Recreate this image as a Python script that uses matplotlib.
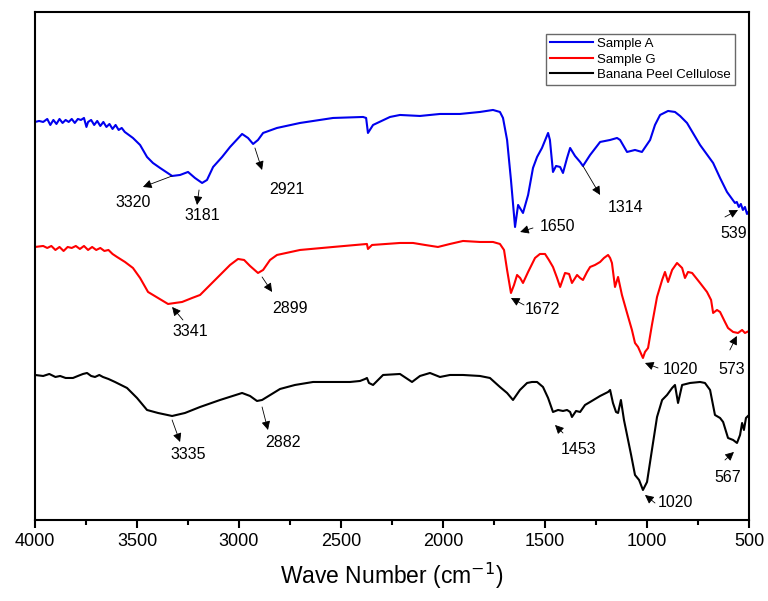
# FTIR spectra of sample A, sample G and banana peel cellulose
import matplotlib
matplotlib.use("Agg")
import matplotlib.pyplot as plt
from matplotlib.ticker import MultipleLocator

plt.rcParams['font.family'] = ['Liberation Sans', 'DejaVu Sans']

# values (wavenumber in cm-1, transmittance in arbitrary offset units)
wn_a = [4000, 3980, 3960, 3940, 3925, 3910, 3895, 3880, 3865, 3850, 3835, 3820, 3805, 3790,
        3775, 3760, 3748, 3740, 3725, 3710, 3695, 3680, 3665, 3650, 3635, 3620, 3605, 3590,
        3575, 3560, 3520, 3485,
        3451, 3422, 3387, 3328, 3289, 3250, 3216, 3181, 3157, 3127, 3083, 3044, 2985, 2956,
        2931, 2907, 2882, 2814, 2701, 2539, 2392, 2377, 2368, 2343, 2260, 2211, 2113, 2015,
        1917, 1819, 1755, 1721, 1706, 1686, 1667, 1647, 1632, 1608, 1583, 1559, 1539, 1515,
        1485, 1476, 1461, 1446, 1426, 1412, 1392, 1377, 1353, 1328, 1314, 1279, 1230, 1181,
        1147, 1132, 1098, 1059, 1025, 985, 961, 936, 897, 863, 838, 804, 740, 676, 642, 608,
        569, 560, 550, 540, 530, 520, 510, 500]
t_a = [398, 399, 398, 401, 395, 400, 396, 401, 397, 400, 398, 401, 397, 401,
       400, 402, 393, 398, 400, 395, 399, 394, 398, 393, 396, 391, 395, 390,
       392, 388, 382, 375,
       363, 357, 352, 344, 345, 348, 342, 337, 340, 353, 363, 373, 386, 382,
       376, 380, 387, 392, 397, 402, 403, 402, 387, 395, 403, 405, 404, 406,
       406, 408, 410, 408, 402, 380, 340, 293, 315, 307, 325, 352, 363, 372,
       387, 380, 348, 354, 353, 347, 362, 372, 364, 358, 354, 365, 378, 380,
       382, 380, 368, 370, 368, 380, 395, 405, 409, 408, 404, 397, 375, 357, 342, 328,
       317, 318, 313, 316, 310, 313, 306, 309]

wn_g = [4000, 3960, 3940, 3920, 3900, 3880, 3860, 3840, 3820, 3800, 3780, 3760, 3740, 3720,
        3700, 3680, 3660, 3640, 3620, 3598, 3559, 3520, 3485, 3446, 3397,
        3348, 3314, 3279, 3230, 3191, 3142, 3093, 3044, 3005, 2975, 2946, 2907, 2882, 2848,
        2814, 2701, 2539, 2373, 2368, 2348, 2211, 2147, 2088, 2025, 1966, 1902, 1819, 1755,
        1721, 1701, 1686, 1667, 1652, 1637, 1622, 1608, 1583, 1549, 1525, 1500, 1481, 1461,
        1441, 1426, 1402, 1382, 1368, 1343, 1328, 1314, 1294, 1279, 1255, 1230, 1211, 1191,
        1181, 1172, 1157, 1142, 1123, 1098, 1074, 1059, 1044, 1020, 1010, 995, 976, 951, 926,
        912, 897, 877, 853, 828, 814, 799, 779, 740, 706, 686, 676, 657, 642, 618, 603, 578,
        554, 534, 520, 500]
t_g = [273, 274, 272, 274, 270, 273, 269, 273, 272, 274, 271, 274, 270, 273,
       270, 272, 269, 270, 266, 263, 258, 252, 242, 228, 222,
       216, 217, 218, 222, 225, 235, 245, 255, 261, 260, 254, 247, 250, 260,
       265, 270, 273, 276, 271, 275, 277, 277, 275, 273, 276, 279, 278, 278,
       276, 270, 250, 227, 235, 245, 242, 237, 248, 262, 266, 266, 260, 253,
       242, 233, 247, 246, 237, 245, 242, 240, 248, 253, 255, 258, 262, 265,
       262, 257, 233, 243, 225, 207, 190, 177, 173, 162, 168, 172, 195, 223, 240,
       248, 238, 250, 257, 252, 242, 248, 247, 237, 228, 220, 207, 210, 208, 198, 192, 188,
       187, 190, 187, 189]

wn_c = [4000, 3960, 3930, 3900, 3877, 3850, 3814, 3790, 3765, 3745, 3725, 3706, 3685, 3667,
        3640, 3608, 3549, 3500, 3451, 3397, 3328,
        3265, 3191, 3093, 2985, 2946, 2912, 2887, 2863, 2799, 2726, 2637, 2539, 2456, 2407,
        2382, 2373, 2363, 2343, 2294, 2211, 2152, 2113, 2064, 2015, 1966, 1902, 1819, 1770,
        1721, 1686, 1657, 1623, 1588, 1564, 1539, 1510, 1485, 1461, 1436, 1412, 1392, 1377,
        1368, 1348, 1328, 1304, 1279, 1230, 1191, 1181, 1167, 1152, 1142, 1128, 1113, 1098,
        1078, 1059, 1039, 1020, 1000, 976, 951, 926, 902, 877, 863, 848, 828, 789, 740, 716,
        691, 667, 642, 627, 603, 578, 559, 544, 534, 525, 515, 500]
t_c = [145, 144, 146, 143, 144, 142, 142, 144, 146, 147, 144, 143, 145, 143,
       141, 138, 132, 122, 110, 107, 104,
       107, 113, 120, 127, 124, 119, 120, 123, 131, 135, 138, 138, 138, 139,
       141, 142, 137, 135, 145, 146, 138, 144, 147, 143, 145, 145, 144, 142,
       133, 127, 120, 130, 137, 138, 138, 133, 122, 108, 110, 109, 110, 108,
       103, 109, 108, 115, 118, 124, 128, 130, 117, 108, 107, 120, 100, 85,
       65, 45, 40, 30, 38, 70, 103, 120, 125, 132, 135, 117, 135, 137, 138, 137,
       130, 105, 102, 98, 82, 80, 77, 85, 97, 90, 102, 105]

series_names = ['Sample A', 'Sample G', 'Banana Peel Cellulose']
series_colors = ['#0000ee', '#ff0000', '#000000']

# peak labels: text, point on curve, arrow end, text position, head toward curve?
peaks = [
    ('3320', (3328, 344), (3471, 333), (3520, 317), False),
    ('3181', (3196, 330), (3206, 315), (3181, 304), False),
    ('2921', (2922, 372), (2887, 350), (2765, 330), False),
    ('1650', (1622, 288), (1559, 292), (1441, 293), True),
    ('1314', (1314, 354), (1230, 325), (1103, 312), False),
    ('539', (554, 310), (618, 303), (574, 286), True),
    ('3341', (3328, 213), (3275, 200), (3240, 188), True),
    ('2899', (2887, 243), (2838, 228), (2750, 211), False),
    ('1672', (1667, 222), (1603, 215), (1515, 210), True),
    ('1020', (1010, 157), (946, 152), (838, 150), True),
    ('573', (560, 184), (594, 170), (583, 150), True),
    ('3335', (3328, 100), (3289, 78), (3250, 65), False),
    ('2882', (2887, 113), (2858, 90), (2784, 77), False),
    ('1453', (1451, 95), (1412, 87), (1338, 70), True),
    ('1020', (1010, 25), (961, 17), (863, 17), True),
    ('567', (574, 68), (618, 60), (603, 42), True),
]

fig = plt.figure(figsize=(7.68, 6.01), dpi=100)
ax = fig.add_axes([0.0456, 0.1348, 0.9297, 0.8453])

for wn, t, name, col in zip([wn_a, wn_g, wn_c], [t_a, t_g, t_c], series_names, series_colors):
    ax.plot(wn, t, color=col, lw=1.5, label=name)

for label, pt, end, tpos, to_curve in peaks:
    if to_curve:
        head, tail = pt, end
    else:
        head, tail = end, pt
    ax.annotate('', xy=head, xytext=tail,
                arrowprops=dict(arrowstyle='-|>', color='k', lw=0.6, mutation_scale=13,
                                shrinkA=0, shrinkB=0))
    ax.text(tpos[0], tpos[1], label, fontsize=11.5, ha='center', va='center')

ax.set_xlim(4000, 500)
ax.set_ylim(0, 508)
ax.xaxis.set_major_locator(MultipleLocator(500))
ax.xaxis.set_minor_locator(MultipleLocator(250))
ax.tick_params(axis='x', which='major', direction='out', length=6, width=1.5, labelsize=13)
ax.tick_params(axis='x', which='minor', direction='out', length=3.5, width=1.5)
ax.set_yticks([])
for sp in ax.spines.values():
    sp.set_linewidth(1.5)

ax.set_xlabel('Wave Number (cm$^{-1}$)', fontsize=16.5, labelpad=8)

leg = ax.legend(loc='upper right', bbox_to_anchor=(0.980, 0.957), borderaxespad=0,
                fontsize=9.5, frameon=True, fancybox=False, edgecolor='#444444',
                handlelength=3.3, handletextpad=0.3, labelspacing=0.25, borderpad=0.3)
leg.get_frame().set_linewidth(1.0)

fig.savefig('out.png', dpi=100)
